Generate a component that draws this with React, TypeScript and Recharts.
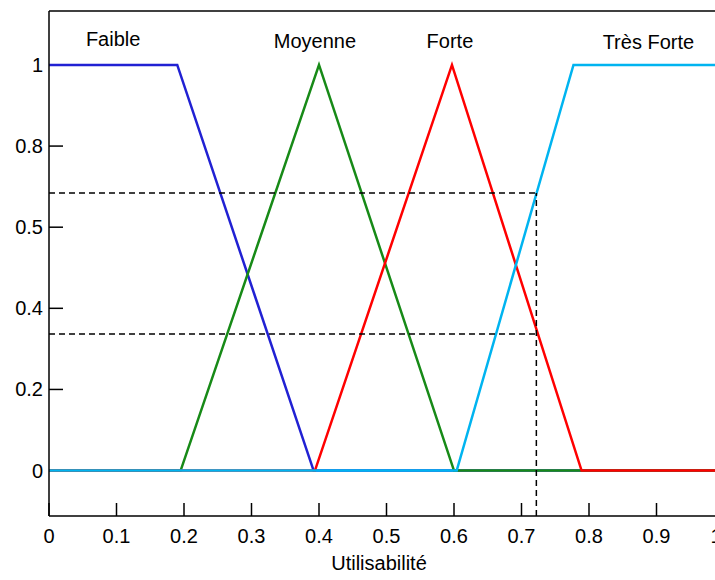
import { LineChart, Line, XAxis, YAxis, ReferenceLine, ReferenceDot } from 'recharts';

const faible = [
  { x: 0, y: 1 },
  { x: 0.19, y: 1 },
  { x: 0.392, y: 0 },
  { x: 1, y: 0 },
];
const moyenne = [
  { x: 0, y: 0 },
  { x: 0.195, y: 0 },
  { x: 0.4, y: 1 },
  { x: 0.6, y: 0 },
  { x: 1, y: 0 },
];
const forte = [
  { x: 0, y: 0 },
  { x: 0.394, y: 0 },
  { x: 0.597, y: 1 },
  { x: 0.789, y: 0 },
  { x: 1, y: 0 },
];
const tresForte = [
  { x: 0, y: 0 },
  { x: 0.604, y: 0 },
  { x: 0.777, y: 1 },
  { x: 1, y: 1 },
];

const setLabels = [
  { name: 'Faible', x: 0.095, y: 1.047 },
  { name: 'Moyenne', x: 0.394, y: 1.042 },
  { name: 'Forte', x: 0.594, y: 1.042 },
  { name: 'Très Forte', x: 0.888, y: 1.039 },
];

const cutX = 0.722;
const cutLevels = [0.684, 0.337];

const xTicks = [0, 0.1, 0.2, 0.3, 0.4, 0.5, 0.6, 0.7, 0.8, 0.9, 1];
const xTickLabels = ['0', '0.1', '0.2', '0.3', '0.4', '0.5', '0.6', '0.7', '0.8', '0.9', '1'];
const yTicks = [0, 0.2, 0.4, 0.6, 0.8, 1];
const yTickLabels = ['0', '0.2', '0.4', '0.5', '0.8', '1'];

const yMin = -0.112;
const yMax = 1.133;

const font = 'Liberation Sans, Arial, sans-serif';

const BottomTick = (props: any) => {
  const { x, y, payload } = props;
  const i = xTicks.indexOf(payload.value);
  // last label sits on the clipped right edge, nudged in like the original
  const dx = i === xTicks.length - 1 ? -8 : 0;
  return (
    <g>
      <line x1={x} y1={y} x2={x} y2={y - 13} stroke="#000" strokeWidth={1.5} />
      <text x={x + dx} y={y + 27} textAnchor="middle" fontSize={20} fontFamily={font} fill="#000">
        {xTickLabels[i]}
      </text>
    </g>
  );
};

const TopTick = (props: any) => {
  const { x, y } = props;
  return <line x1={x} y1={y} x2={x} y2={y + 13} stroke="#000" strokeWidth={1.5} />;
};

const LeftTick = (props: any) => {
  const { x, y, payload } = props;
  const i = yTicks.indexOf(payload.value);
  // ticks at 0 and 1 are hidden under the curves in the original
  const hideLine = payload.value === 0 || payload.value === 1;
  return (
    <g>
      {!hideLine && <line x1={x} y1={y} x2={x + 14} y2={y} stroke="#000" strokeWidth={1.5} />}
      <text x={x - 6} y={y + 7} textAnchor="end" fontSize={20} fontFamily={font} fill="#000">
        {yTickLabels[i]}
      </text>
    </g>
  );
};

const AxisTitle = (props: any) => {
  const { x, y, width } = props.viewBox;
  return (
    <text x={x + width / 2 - 7.5} y={y + 54} textAnchor="middle" fontSize={20} fontFamily={font} fill="#000">
      Utilisabilité
    </text>
  );
};

export default function App() {
  const axisStyle = { stroke: '#000', strokeWidth: 1.5 };
  return (
    <div style={{ position: 'absolute', left: 0, top: 0, width: 715, height: 580, overflow: 'hidden', background: '#fff' }}>
      <LineChart width={760} height={580} margin={{ top: 0, right: 36, bottom: 0, left: 0 }}>
        <XAxis
          dataKey="x"
          type="number"
          domain={[0, 1]}
          ticks={xTicks}
          interval={0}
          height={64}
          tickSize={0}
          tickMargin={0}
          tickLine={false}
          axisLine={axisStyle}
          tick={<BottomTick />}
          label={<AxisTitle />}
        />
        <XAxis
          xAxisId="top"
          orientation="top"
          type="number"
          domain={[0, 1]}
          ticks={xTicks}
          interval={0}
          height={11}
          tickSize={0}
          tickMargin={0}
          tickLine={false}
          axisLine={axisStyle}
          tick={<TopTick />}
        />
        <YAxis
          type="number"
          domain={[yMin, yMax]}
          allowDataOverflow
          ticks={yTicks}
          interval={0}
          width={49}
          tickSize={0}
          tickMargin={0}
          tickLine={false}
          axisLine={axisStyle}
          tick={<LeftTick />}
        />
        <Line data={faible} dataKey="y" stroke="#2121d3" strokeWidth={2.5} dot={false} isAnimationActive={false} />
        <Line data={moyenne} dataKey="y" stroke="#178a17" strokeWidth={2.5} dot={false} isAnimationActive={false} />
        <Line data={forte} dataKey="y" stroke="#ff0000" strokeWidth={2.5} dot={false} isAnimationActive={false} />
        <Line data={tresForte} dataKey="y" stroke="#00b4f0" strokeWidth={2.5} dot={false} isAnimationActive={false} />
        {cutLevels.map((lv) => (
          <ReferenceLine
            key={lv}
            segment={[{ x: 0, y: lv }, { x: cutX, y: lv }]}
            stroke="#000"
            strokeWidth={1.5}
            strokeDasharray="6 4"
          />
        ))}
        <ReferenceLine
          segment={[{ x: cutX, y: yMin }, { x: cutX, y: cutLevels[0] }]}
          stroke="#000"
          strokeWidth={1.5}
          strokeDasharray="6 4"
        />
        {setLabels.map((s) => (
          <ReferenceDot
            key={s.name}
            x={s.x}
            y={s.y}
            r={0}
            shape={(p: any) => (
              <text x={p.cx} y={p.cy} textAnchor="middle" fontSize={20} fontFamily={font} fill="#000">
                {s.name}
              </text>
            )}
          />
        ))}
      </LineChart>
    </div>
  );
}
